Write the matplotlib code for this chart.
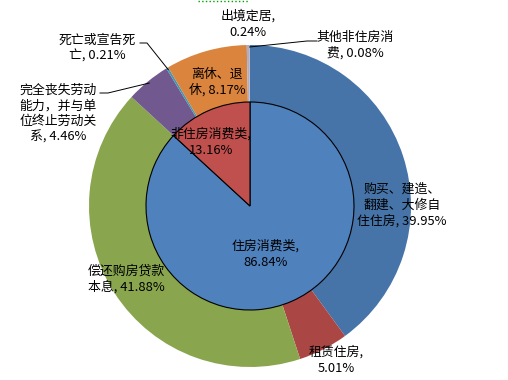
import matplotlib.pyplot as plt
import numpy as np

plt.rcParams['font.family'] = ['Noto Sans CJK SC', 'DejaVu Sans']

# outer ring: detailed uses
outer_labels = ['购买、建造、\n翻建、大修自\n住住房, 39.95%', '租赁住房,\n5.01%',
                '偿还购房贷款\n本息, 41.88%', '完全丧失劳动\n能力，并与单\n位终止劳动关\n系, 4.46%',
                '死亡或宣告死\n亡, 0.21%', '离休、退\n休, 8.17%', '出境定居,\n0.24%',
                '其他非住房消\n费, 0.08%']
outer_vals = [39.95, 5.01, 41.88, 4.46, 0.21, 8.17, 0.24, 0.08]
outer_colors = ['#4674A8', '#AA4643', '#89A54E', '#71588F', '#4198AF', '#DB843D',
                '#A3B0CE', '#C9A4A4']

# inner pie: two groups
inner_labels = ['住房消费类,\n86.84%', '非住房消费类,\n13.16%']
inner_vals = [86.84, 13.16]
inner_colors = ['#4F81BD', '#C0504D']

W, H = 508, 380
cx, cy = 250, H - 206
r_out, r_in = 161, 104

fig = plt.figure(figsize=(W / 100, H / 100), dpi=100)
ax = fig.add_axes([0, 0, 1, 1])

ax.pie(outer_vals, radius=r_out, center=(cx, cy), startangle=90, counterclock=False,
       colors=outer_colors, wedgeprops=dict(edgecolor='none'))
ax.pie(inner_vals, radius=r_in, center=(cx, cy), startangle=90, counterclock=False,
       colors=inner_colors, wedgeprops=dict(edgecolor='black', linewidth=0.8))

ax.set_xlim(0, W)
ax.set_ylim(0, H)
ax.set_aspect('equal')
ax.axis('off')

# label centres (pixels from top-left)
outer_pos = [(402, 205), (336, 360), (126, 279), (58, 114), (97, 48), (217, 82),
             (248, 24), (355, 45)]
inner_pos = [(266, 254), (211, 142)]

fs = 9.3
for txt, (x, y) in zip(outer_labels, outer_pos):
    ax.text(x, H - y, txt, ha='center', va='center', fontsize=fs, linespacing=1.25)
for txt, (x, y) in zip(inner_labels, inner_pos):
    ax.text(x, H - y, txt, ha='center', va='center', fontsize=fs, linespacing=1.25)

# leader lines for the small slices
cum = np.cumsum(outer_vals)
mid = cum - np.array(outer_vals) / 2
ang = np.deg2rad(90 - 360 * mid / 100)
leaders = {3: [(100, 93), (108, 93)], 4: [(140, 43), (147, 43)], 7: [(317, 41), (307, 41)]}
for i, pts in leaders.items():
    px = cx + (r_out - 2) * np.cos(ang[i])
    py = cy + (r_out - 2) * np.sin(ang[i])
    xs = [p[0] for p in pts] + [px]
    ys = [H - p[1] for p in pts] + [py]
    ax.plot(xs, ys, color='black', linewidth=0.7)

# dotted border piece at the top
ax.plot([198, 248], [H - 1, H - 1], color='#00A000', linestyle=':', linewidth=1)

fig.savefig('out.png', dpi=100)
